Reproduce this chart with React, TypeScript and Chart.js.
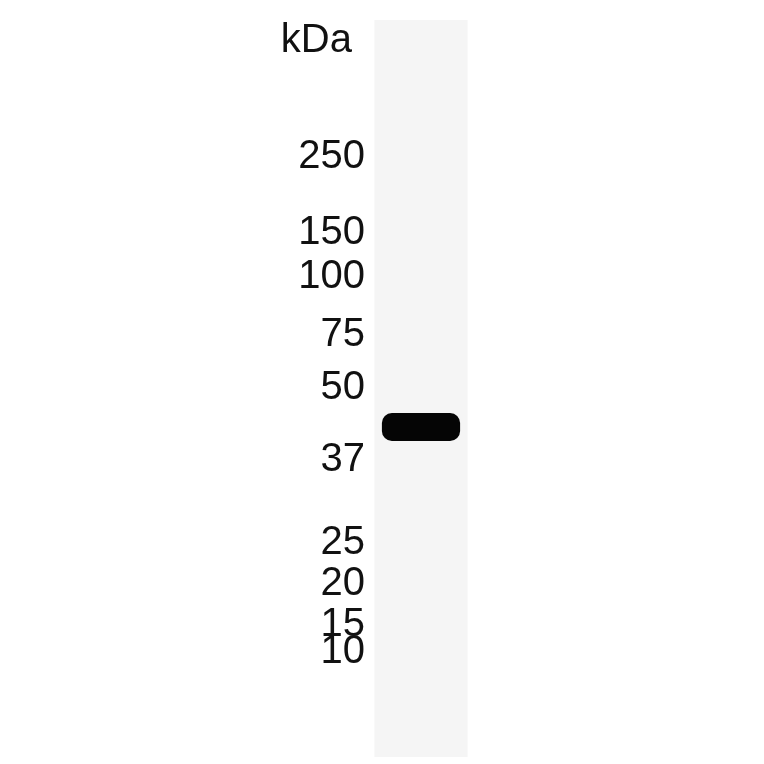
import React, { useEffect, useRef } from 'react';
import { Chart, registerables } from 'chart.js';

Chart.register(...registerables);

// marker ladder: label and migration distance (px from the top of the blot)
const markerLabels = ['250', '150', '100', '75', '50', '37', '25', '20', '15', '10'];
const markerPositions = [157, 233, 277, 335, 388, 460, 543, 584, 625, 652];

// single lane and its band, as [start, end] migration distances
const laneNames = ['Lane 1'];
const laneSpan = [[20, 757]];
const bandSpan = [[413, 441]];

const unitLabel = 'kDa';

const kdaPlugin = {
  id: 'kdaLabel',
  afterDraw(chart: any) {
    const { ctx, scales } = chart;
    ctx.save();
    ctx.font = '40px "Liberation Sans", Arial, sans-serif';
    ctx.fillStyle = '#111';
    ctx.textAlign = 'right';
    ctx.textBaseline = 'middle';
    ctx.fillText(unitLabel, 352, scales.y.getPixelForValue(41));
    ctx.restore();
  },
};

const App: React.FC = () => {
  const canvasRef = useRef<HTMLCanvasElement>(null);
  const chartRef = useRef<Chart | null>(null);

  useEffect(() => {
    if (!canvasRef.current) return;
    chartRef.current = new Chart(canvasRef.current, {
      type: 'bar',
      data: {
        labels: laneNames,
        datasets: [
          {
            label: 'lane',
            data: laneSpan,
            backgroundColor: '#f5f5f5',
            borderWidth: 0,
            barPercentage: 1,
            categoryPercentage: 0.95,
            order: 2,
          },
          {
            label: 'band',
            data: bandSpan,
            backgroundColor: '#050505',
            borderWidth: 0,
            borderRadius: 10,
            borderSkipped: false,
            barPercentage: 0.84,
            categoryPercentage: 0.95,
            order: 1,
          },
        ],
      },
      options: {
        animation: false,
        responsive: false,
        maintainAspectRatio: false,
        datasets: { bar: { grouped: false } },
        layout: { padding: { left: 0, right: 294, top: 0, bottom: 0 } },
        plugins: {
          legend: { display: false },
          tooltip: { enabled: false },
        },
        scales: {
          x: { display: false },
          y: {
            reverse: true,
            min: 0,
            max: 764,
            grid: { display: false, drawTicks: false },
            border: { display: false },
            afterBuildTicks: (scale: any) => {
              scale.ticks = markerPositions.map((v) => ({ value: v }));
            },
            afterFit: (scale: any) => {
              scale.width = 372;
              scale.paddingTop = 0;
              scale.paddingBottom = 0;
            },
            ticks: {
              autoSkip: false,
              padding: 7,
              color: '#111',
              font: { family: '"Liberation Sans", Arial, sans-serif', size: 40 },
              callback: (_v: any, i: number) => markerLabels[i],
            },
          },
        },
      },
      plugins: [kdaPlugin],
    });
    return () => {
      chartRef.current?.destroy();
      chartRef.current = null;
    };
  }, []);

  return (
    <div style={{ position: 'fixed', left: 0, top: 0, width: 764, height: 764, background: '#fff' }}>
      <canvas ref={canvasRef} width={764} height={764} style={{ width: 764, height: 764 }}></canvas>
    </div>
  );
};

export default App;
